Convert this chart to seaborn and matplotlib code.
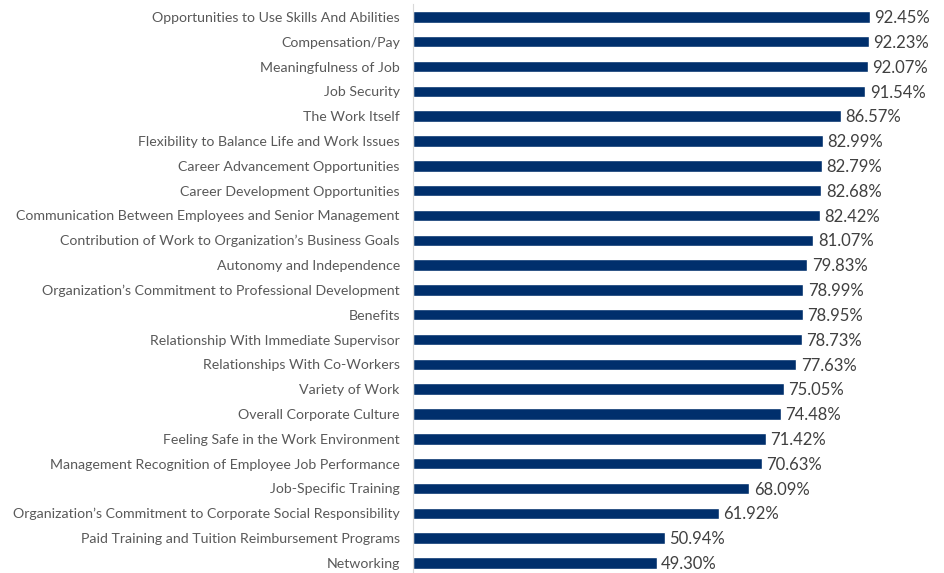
import matplotlib
matplotlib.use("Agg")
import matplotlib.pyplot as plt
import seaborn as sb
import pandas as pd

categories = [
    "Opportunities to Use Skills And Abilities",
    "Compensation/Pay",
    "Meaningfulness of Job",
    "Job Security",
    "The Work Itself",
    "Flexibility to Balance Life and Work Issues",
    "Career Advancement Opportunities",
    "Career Development Opportunities",
    "Communication Between Employees and Senior Management",
    "Contribution of Work to Organization\u2019s Business Goals",
    "Autonomy and Independence",
    "Organization\u2019s Commitment to Professional Development",
    "Benefits",
    "Relationship With Immediate Supervisor",
    "Relationships With Co-Workers",
    "Variety of Work",
    "Overall Corporate Culture",
    "Feeling Safe in the Work Environment",
    "Management Recognition of Employee Job Performance",
    "Job-Specific Training",
    "Organization\u2019s Commitment to Corporate Social Responsibility",
    "Paid Training and Tuition Reimbursement Programs",
    "Networking",
]
values = [92.45, 92.23, 92.07, 91.54, 86.57, 82.99, 82.79, 82.68, 82.42, 81.07,
          79.83, 78.99, 78.95, 78.73, 77.63, 75.05, 74.48, 71.42, 70.63, 68.09,
          61.92, 50.94, 49.30]

df = pd.DataFrame({"item": categories, "pct": values})

sb.set_style("white")
plt.rcParams['font.family'] = ['Lato', 'DejaVu Sans']

fig = plt.figure(figsize=(9.45, 5.73), dpi=100)
ax = fig.add_axes([413 / 945, -0.004, 494 / 945, 570.8 / 573])

sb.barplot(data=df, x="pct", y="item", color="#002f6c", saturation=1,
           width=0.46, ax=ax, orient="h")
ax.set_xlim(0, 100)
ax.set_ylim(len(categories) - 0.5, -0.5)
ax.set_xlabel("")
ax.set_ylabel("")
ax.set_xticks([])
ax.tick_params(axis="y", length=0, pad=9.5, labelsize=10.15, labelcolor="#595959")

for s in ["top", "right", "bottom"]:
    ax.spines[s].set_visible(False)
ax.spines["left"].set_color("#d9d9d9")
ax.spines["left"].set_linewidth(0.8)

# value labels next to each bar
for i, v in enumerate(values):
    ax.text(v + 0.9, i + 0.05, f"{v:.2f}%", va="center", ha="left", fontsize=12,
            color="#404040", clip_on=False)

plt.savefig("out.png", dpi=100)
